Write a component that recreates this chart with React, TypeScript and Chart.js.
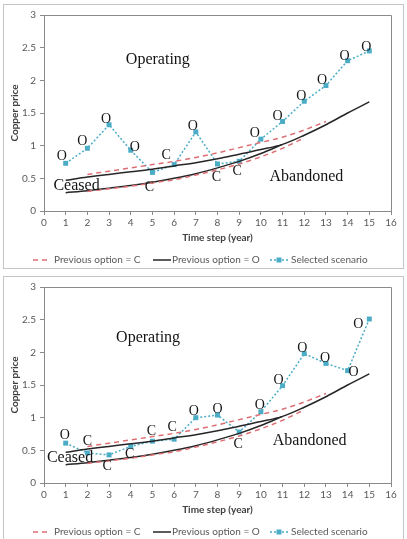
import React, { useEffect, useRef } from "react";
import { Chart, registerables } from "chart.js";

Chart.register(...registerables);

// Threshold curves (same in both panels)
const prevCUpperYears = [2, 3, 4, 5, 6, 7, 8, 9, 10, 11, 12, 13];
const prevCUpper = [0.56, 0.61, 0.66, 0.71, 0.76, 0.82, 0.89, 0.97, 1.05, 1.13, 1.24, 1.37];
const prevCLowerYears = [2, 3, 4, 5, 6, 7, 8, 9, 10, 11, 12];
const prevCLower = [0.3, 0.34, 0.38, 0.43, 0.48, 0.55, 0.63, 0.72, 0.83, 0.96, 1.12];
const prevOUpperYears = [1, 2, 3, 4, 5, 6, 7, 8, 9, 10, 11, 12, 13, 14, 15];
const prevOUpper = [0.47, 0.52, 0.56, 0.6, 0.64, 0.69, 0.74, 0.8, 0.87, 0.94, 1.02, 1.16, 1.32, 1.5, 1.67];
const prevOLowerYears = [1, 2, 3, 4, 5, 6, 7, 8, 9, 10, 11];
const prevOLower = [0.28, 0.31, 0.35, 0.39, 0.44, 0.5, 0.57, 0.66, 0.76, 0.88, 1.02];

// Scenario paths
const years = [1, 2, 3, 4, 5, 6, 7, 8, 9, 10, 11, 12, 13, 14, 15];
const scenarioA = [0.73, 0.96, 1.32, 0.93, 0.59, 0.71, 1.21, 0.72, 0.76, 1.1, 1.37, 1.68, 1.92, 2.3, 2.45];
const statesA = ["O", "O", "O", "O", "C", "C", "O", "C", "C", "O", "O", "O", "O", "O", "O"];
const scenarioB = [0.61, 0.46, 0.43, 0.56, 0.64, 0.67, 1.0, 1.04, 0.78, 1.09, 1.49, 1.98, 1.83, 1.72, 2.51];
const statesB = ["O", "C", "C", "C", "C", "C", "O", "O", "C", "O", "O", "O", "O", "O", "O"];

// Pixel nudges for the state letters around each point
const nudgesA = [[-4, -7], [-5, -7], [-3, -5], [4, -3], [-3, 15], [-8, -9], [-3, -6], [-1, 13], [-2, 10], [-6, -6], [-5, -5], [-3, -5], [-4, -5], [-3, -4], [-3, -4]];
const nudgesB = [[-1, -8], [0, -12], [-2, 11], [-1, 8], [-1, -10], [-2, -12], [-2, -6], [0, -6], [-1, 12], [-1, -6], [-4, -5], [-2, -5], [-1, -5], [6, 2], [-11, 5]];

// Region names: [text, year, price]
const regionsA: [string, number, number][] = [["Operating", 5.25, 2.32], ["Abandoned", 12.1, 0.52], ["Ceased", 1.5, 0.39]];
const regionsB: [string, number, number][] = [["Operating", 4.8, 2.22], ["Abandoned", 12.25, 0.65], ["Ceased", 1.2, 0.39]];

const xTicks = [0, 1, 2, 3, 4, 5, 6, 7, 8, 9, 10, 11, 12, 13, 14, 15, 16];
const yTicks = [0, 0.5, 1, 1.5, 2, 2.5, 3];
const yTickLabels = ["0", "0.5", "1", "1.5", "2", "2.5", "3"];

const legendLabels = ["Previous option = C", "Previous option = O", "Selected scenario"];

const RED = "rgb(222,110,115)";
const BLACK = "#262626";
const CYAN = "#4bacc6";
const AXIS = "#8a8a8a";
const TEXT = "#595959";
const SANS = "Lato, 'Liberation Sans', sans-serif";
const SERIF = "'Liberation Serif', 'DejaVu Serif', serif";

const pts = (xs: number[], ys: number[]) => xs.map((x, i) => ({ x, y: ys[i] }));

const annotate = {
  id: "annotate",
  beforeDatasetsDraw(chart: any) {
    const { ctx, chartArea: a } = chart;
    ctx.save();
    ctx.strokeStyle = AXIS;
    ctx.lineWidth = 1;
    ctx.beginPath();
    ctx.moveTo(a.left, a.top + 0.5);
    ctx.lineTo(a.right + 0.5, a.top + 0.5);
    ctx.lineTo(a.right + 0.5, a.bottom);
    ctx.stroke();
    ctx.restore();
  },
  afterDatasetsDraw(chart: any, _args: any, opts: any) {
    const { ctx, scales } = chart;
    const xs = scales.x;
    const ys = scales.y;
    ctx.save();
    ctx.fillStyle = "#141414";
    ctx.textAlign = "center";
    ctx.textBaseline = "middle";
    ctx.font = `16px ${SERIF}`;
    opts.regions.forEach(([t, x, y]: [string, number, number]) => {
      ctx.fillText(t, xs.getPixelForValue(x), ys.getPixelForValue(y));
    });
    ctx.font = `14px ${SERIF}`;
    opts.states.forEach((s: string, i: number) => {
      const px = xs.getPixelForValue(years[i]) + opts.nudges[i][0];
      const py = ys.getPixelForValue(opts.values[i]) + opts.nudges[i][1];
      ctx.fillText(s, px, py);
    });
    ctx.restore();
  },
  afterDraw(chart: any) {
    const { ctx } = chart;
    const y = chart.height - 8;
    ctx.save();
    ctx.font = `10px ${SANS}`;
    ctx.fillStyle = TEXT;
    ctx.textBaseline = "middle";
    ctx.textAlign = "left";
    ctx.lineWidth = 1.5;
    // dashed red sample
    ctx.strokeStyle = RED;
    ctx.setLineDash([5, 4]);
    ctx.beginPath();
    ctx.moveTo(29, y);
    ctx.lineTo(47, y);
    ctx.stroke();
    ctx.fillText(legendLabels[0], 50, y);
    // solid black sample
    ctx.setLineDash([]);
    ctx.strokeStyle = BLACK;
    ctx.beginPath();
    ctx.moveTo(149, y);
    ctx.lineTo(167, y);
    ctx.stroke();
    ctx.fillText(legendLabels[1], 168, y);
    // dotted cyan sample with marker
    ctx.strokeStyle = CYAN;
    ctx.setLineDash([2, 2]);
    ctx.beginPath();
    ctx.moveTo(266, y);
    ctx.lineTo(284, y);
    ctx.stroke();
    ctx.setLineDash([]);
    ctx.fillStyle = CYAN;
    ctx.fillRect(272.5, y - 2.5, 5, 5);
    ctx.fillStyle = TEXT;
    ctx.fillText(legendLabels[2], 287, y);
    ctx.restore();
  },
};

function makeConfig(values: number[], states: string[], nudges: number[][], regions: [string, number, number][], padTop: number): any {
  const curve = { pointRadius: 0, borderWidth: 1.5, tension: 0.4, cubicInterpolationMode: "monotone", fill: false };
  return {
    type: "line",
    data: {
      datasets: [
        { label: legendLabels[0], data: pts(prevCUpperYears, prevCUpper), borderColor: RED, borderDash: [5, 4], ...curve },
        { label: legendLabels[0], data: pts(prevCLowerYears, prevCLower), borderColor: RED, borderDash: [5, 4], ...curve },
        { label: legendLabels[1], data: pts(prevOUpperYears, prevOUpper), borderColor: BLACK, ...curve },
        { label: legendLabels[1], data: pts(prevOLowerYears, prevOLower), borderColor: BLACK, ...curve },
        {
          label: legendLabels[2],
          data: pts(years, values),
          borderColor: CYAN,
          backgroundColor: CYAN,
          borderDash: [2, 2],
          borderWidth: 1.5,
          tension: 0,
          pointStyle: "rect",
          pointRadius: 3.5,
          pointBorderWidth: 0,
          pointBackgroundColor: CYAN,
        },
      ],
    },
    options: {
      responsive: false,
      animation: false,
      events: [],
      layout: { padding: { top: padTop, right: 12, bottom: 24, left: 0 } },
      plugins: {
        legend: { display: false },
        tooltip: { enabled: false },
        annotate: { values, states, nudges, regions },
      },
      scales: {
        x: {
          type: "linear",
          min: 0,
          max: 16,
          afterBuildTicks: (s: any) => { s.ticks = xTicks.map((v) => ({ value: v })); },
          afterFit: (s: any) => { s.height = 33; },
          grid: { drawOnChartArea: false, drawTicks: true, tickLength: 4, color: AXIS },
          border: { color: AXIS, width: 1 },
          ticks: { color: TEXT, font: { family: SANS, size: 10 }, padding: 2, maxRotation: 0, autoSkip: false, callback: (v: number) => String(v) },
          title: { display: true, text: "Time step (year)", color: "#404040", font: { family: SANS, size: 10, weight: "bold" }, padding: 0 },
        },
        y: {
          type: "linear",
          min: 0,
          max: 3,
          afterBuildTicks: (s: any) => { s.ticks = yTicks.map((v) => ({ value: v })); },
          afterFit: (s: any) => { s.width = 40; },
          grid: { drawOnChartArea: false, drawTicks: true, tickLength: 4, color: AXIS },
          border: { color: AXIS, width: 1 },
          ticks: {
            color: TEXT,
            font: { family: SANS, size: 10 },
            padding: 4,
            callback: (v: number) => {
              const i = yTicks.indexOf(v);
              return i >= 0 ? yTickLabels[i] : String(v);
            },
          },
          title: { display: true, text: "Copper price", color: "#404040", font: { family: SANS, size: 10, weight: "bold" }, padding: { top: 5, bottom: 0 } },
        },
      },
    },
    plugins: [annotate],
  };
}

function Panel(props: { top: number; values: number[]; states: string[]; nudges: number[][]; regions: [string, number, number][]; padTop: number }) {
  const ref = useRef<HTMLCanvasElement>(null);
  useEffect(() => {
    if (!ref.current) return;
    const chart = new Chart(ref.current, makeConfig(props.values, props.states, props.nudges, props.regions, props.padTop));
    return () => chart.destroy();
  }, []);
  return (
    <div
      style={{
        position: "absolute",
        left: 3,
        top: props.top,
        width: 399,
        height: 263,
        border: "1px solid #c4c4c4",
        background: "#fff",
      }}
    >
      <canvas ref={ref} width={399} height={263} style={{ display: "block", width: 399, height: 263 }} />
    </div>
  );
}

export default function App() {
  return (
    <div style={{ position: "fixed", left: 0, top: 0, width: 407, height: 539, background: "#fff", overflow: "hidden" }}>
      <Panel top={4} values={scenarioA} states={statesA} nudges={nudgesA} regions={regionsA} padTop={8} />
      <Panel top={276} values={scenarioB} states={statesB} nudges={nudgesB} regions={regionsB} padTop={6} />
    </div>
  );
}
